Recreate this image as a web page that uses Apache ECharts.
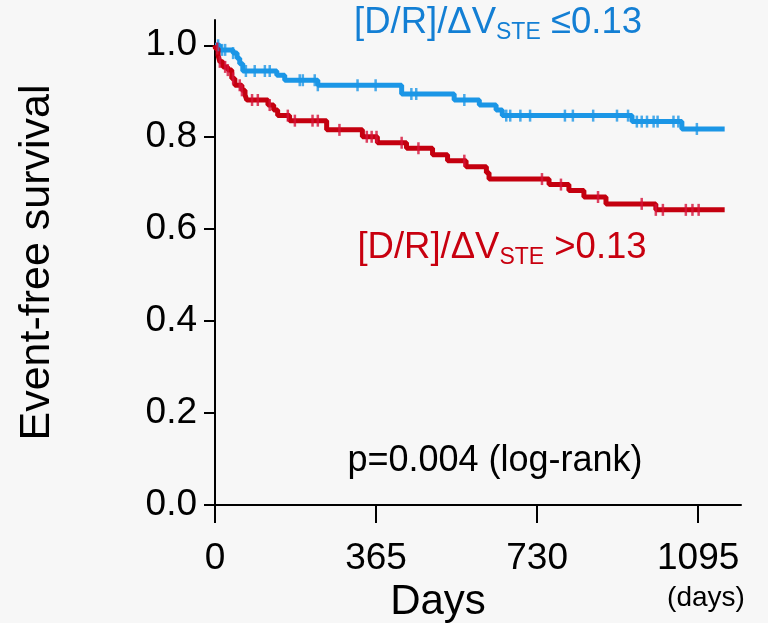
<!DOCTYPE html>
<html>
<head>
<meta charset="utf-8">
<script src="https://cdn.jsdelivr.net/npm/echarts@6/dist/echarts.min.js"></script>
<style>
  html, body { margin: 0; padding: 0; background: #f7f7f7; }
  #chart { width: 768px; height: 623px; }
</style>
</head>
<body>
<div id="chart"></div>
<script>
const font = "Liberation Sans, Arial, sans-serif";

// Kaplan-Meier steps, [D/R]/dV_STE <= 0.13 (blue)
const lowDays = [0, 11, 41, 50, 56, 63, 140, 158, 233, 423, 542, 599, 637, 651, 945, 1058, 1155];
const lowSurv = [1.0, 0.99, 0.983, 0.972, 0.96, 0.944, 0.935, 0.924, 0.913, 0.894, 0.881, 0.87, 0.859, 0.847, 0.834, 0.818, 0.818];
const lowCensor = [7, 16, 23, 41, 70, 90, 113, 124, 192, 199, 226, 233, 323, 364, 445, 456, 565, 660, 669, 692, 714,
    793, 811, 857, 911, 936, 956, 967, 979, 994, 1003, 1039, 1050, 1092];

// [D/R]/dV_STE > 0.13 (red)
const highDays = [0, 1, 7, 11, 18, 29, 38, 45, 61, 68, 72, 120, 133, 142, 169, 253, 334, 368, 434, 493, 527, 569,
    615, 621, 757, 802, 836, 886, 999, 1155];
const highSurv = [1.0, 0.993, 0.978, 0.964, 0.953, 0.946, 0.928, 0.913, 0.902, 0.892, 0.881, 0.87, 0.859, 0.847,
    0.836, 0.816, 0.801, 0.788, 0.776, 0.762, 0.749, 0.736, 0.723, 0.709, 0.697, 0.684, 0.67, 0.655, 0.642, 0.642];
const highCensor = [5, 11, 23, 29, 41, 56, 61, 84, 97, 124, 165, 181, 221, 233, 282, 344, 355, 366, 423, 461, 565,
    741, 784, 868, 967, 999, 1015, 1067, 1082, 1096];

const xTicks = [0, 365, 730, 1095];
const yTicks = [0, 0.2, 0.4, 0.6, 0.8, 1.0];

const blue = "#1b96e6";
const red = "#c4000f";
const redMark = "#d61238";

// survival value in force at day t (step function)
const survAt = (days, surv, t) => {
    let s = surv[0];
    for (let i = 0; i < days.length; i++) {
        if (days[i] <= t) s = surv[i];
    }
    return s;
};

const pairs = (days, surv) => days.map((d, i) => [d, surv[i]]);
const censorPts = (days, surv, cens) => cens.map((t) => [t, survAt(days, surv, t)]);

const groupLabel = (sign, color) => ({
    text: "{a|[D/R]/ΔV}{s|STE}{a| " + sign + "0.13}",
    align: "center",
    verticalAlign: "middle",
    fill: color,
    rich: {
        a: { fontSize: 36.5, fontFamily: font, lineHeight: 42, fill: color },
        s: { fontSize: 23, fontFamily: font, lineHeight: 19, verticalAlign: "bottom", fill: color },
    },
});

const chart = echarts.init(document.getElementById("chart"));

const options = {
    backgroundColor: "#f7f7f7",
    animation: false,
    textStyle: { fontFamily: font },
    grid: { left: 215, right: 27, top: 20, bottom: 118, containLabel: false, outerBoundsMode: "none" },
    xAxis: {
        type: "value",
        min: 0,
        max: 1192,
        splitLine: { show: false },
        axisLine: { lineStyle: { color: "#000", width: 2 } },
        axisTick: { length: 18, lineStyle: { color: "#000", width: 2 }, customValues: xTicks },
        axisLabel: {
            customValues: xTicks,
            fontSize: 37,
            color: "#000",
            margin: 35,
            fontFamily: font,
            formatter: (v) => String(v),
        },
    },
    yAxis: {
        type: "value",
        min: 0,
        max: 1.055,
        name: "Event-free survival",
        nameLocation: "middle",
        nameRotate: 90,
        nameGap: 156,
        nameTextStyle: { fontSize: 43, color: "#000", fontFamily: font },
        splitLine: { show: false },
        axisLine: { lineStyle: { color: "#000", width: 2 } },
        axisTick: { length: 11, lineStyle: { color: "#000", width: 2 }, customValues: yTicks },
        axisLabel: {
            customValues: yTicks,
            fontSize: 37,
            color: "#000",
            margin: 18,
            fontFamily: font,
            formatter: (v) => v.toFixed(1),
        },
    },
    series: [
        {
            type: "line",
            step: "end",
            data: pairs(lowDays, lowSurv),
            showSymbol: false,
            lineStyle: { color: blue, width: 5 },
            z: 2,
        },
        {
            type: "line",
            step: "end",
            data: pairs(highDays, highSurv),
            showSymbol: false,
            lineStyle: { color: red, width: 5 },
            z: 2,
        },
        {
            type: "scatter",
            data: censorPts(lowDays, lowSurv, lowCensor),
            symbol: "rect",
            symbolSize: [2.5, 12],
            itemStyle: { color: blue },
            z: 3,
        },
        {
            type: "scatter",
            data: censorPts(highDays, highSurv, highCensor),
            symbol: "rect",
            symbolSize: [2.5, 12],
            itemStyle: { color: redMark },
            z: 3,
        },
    ],
    graphic: [
        { type: "text", x: 498, y: 23, style: groupLabel("≤", "#137fd4") },
        { type: "text", x: 502, y: 248, style: groupLabel(">", "#c8000f") },
        {
            type: "text",
            x: 495,
            y: 461,
            style: {
                text: "p=0.004 (log-rank)",
                align: "center",
                verticalAlign: "middle",
                fontSize: 36,
                fontFamily: font,
                fill: "#000",
            },
        },
        {
            type: "text",
            x: 438,
            y: 602,
            style: {
                text: "Days",
                align: "center",
                verticalAlign: "middle",
                fontSize: 42,
                fontFamily: font,
                fill: "#000",
            },
        },
        {
            type: "text",
            x: 706,
            y: 598,
            style: {
                text: "(days)",
                align: "center",
                verticalAlign: "middle",
                fontSize: 28,
                fontFamily: font,
                fill: "#000",
            },
        },
    ],
};

chart.setOption(options);
</script>
</body>
</html>
